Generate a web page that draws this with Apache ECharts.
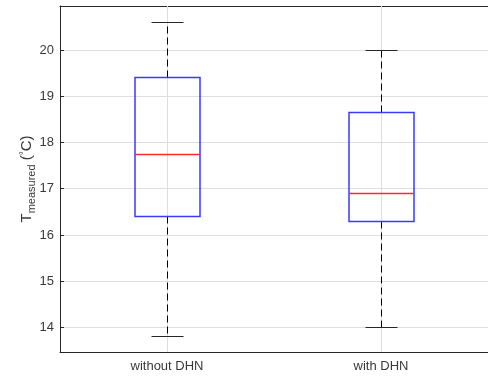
<!DOCTYPE html>
<html>
<head>
<meta charset="utf-8">
<script src="https://cdn.jsdelivr.net/npm/echarts@6/dist/echarts.min.js"></script>
<style>html,body{margin:0;padding:0;background:#fff;}#c{width:488px;height:378px;}</style>
</head>
<body>
<div id="c"></div>
<script>
// ---- data ----
const categories = ['without DHN', 'with DHN'];
const lowerWhisker = [13.81, 14.0];
const q1 = [16.41, 16.31];
const median = [17.75, 16.91];
const q3 = [19.41, 18.65];
const upperWhisker = [20.61, 20.0];
const yMin = 13.47;
const yMax = 20.95;

const boxData = categories.map((c, i) => [i, lowerWhisker[i], q1[i], median[i], q3[i], upperWhisker[i]]);

const FONT = '"Liberation Sans", Arial, sans-serif';
const AXIS = '#262626';
const LABEL = '#3a3a3a';
const GRID = '#dedede';

const chart = echarts.init(document.getElementById('c'), null, {renderer: 'canvas'});

function renderBox(params, api) {
  const x = api.value(0);
  const p = v => api.coord([x, v]);
  const cx = Math.round(p(yMin)[0]) + 0.5;
  const yTop = p(yMax)[1], yBot = p(yMin)[1];
  const yLo = Math.round(p(api.value(1))[1]) + 0.5;
  const yQ1 = Math.round(p(api.value(2))[1]) + 0.5;
  const yMed = Math.round(p(api.value(3))[1]) + 0.5;
  const yQ3 = Math.round(p(api.value(4))[1]) + 0.5;
  const yHi = Math.round(p(api.value(5))[1]) + 0.5;
  const halfBox = 32.5, halfCap = 16;
  return {
    type: 'group',
    children: [
      {type: 'line', z2: 1, shape: {x1: cx, y1: yTop, x2: cx, y2: yBot}, style: {stroke: GRID, lineWidth: 1}},
      {type: 'line', z2: 2, shape: {x1: cx, y1: yQ3, x2: cx, y2: yHi}, style: {stroke: '#000', lineWidth: 1, lineDash: [7, 4]}},
      {type: 'line', z2: 2, shape: {x1: cx, y1: yQ1, x2: cx, y2: yLo}, style: {stroke: '#000', lineWidth: 1, lineDash: [7, 4]}},
      {type: 'line', z2: 2, shape: {x1: cx - halfCap, y1: yHi, x2: cx + halfCap, y2: yHi}, style: {stroke: '#262626', lineWidth: 1}},
      {type: 'line', z2: 2, shape: {x1: cx - halfCap, y1: yLo, x2: cx + halfCap, y2: yLo}, style: {stroke: '#262626', lineWidth: 1}},
      {type: 'rect', z2: 3, shape: {x: cx - halfBox, y: yQ3, width: 2 * halfBox, height: yQ1 - yQ3},
        style: {fill: 'none', stroke: '#3a3aff', lineWidth: 1.5}},
      {type: 'line', z2: 4, shape: {x1: cx - halfBox, y1: yMed, x2: cx + halfBox, y2: yMed},
        style: {stroke: '#ff2a2a', lineWidth: 1.3}}
    ]
  };
}

chart.setOption({
  animation: false,
  backgroundColor: '#fff',
  textStyle: {fontFamily: FONT},
  grid: {left: 60, top: 6, right: -8, bottom: 26, containLabel: false},
  xAxis: [{
    type: 'category',
    data: categories,
    position: 'bottom',
    axisLine: {lineStyle: {color: AXIS, width: 1}},
    axisTick: {show: true, inside: true, alignWithLabel: true, length: 4, lineStyle: {color: AXIS}},
    axisLabel: {color: LABEL, fontSize: 13, margin: 8, fontFamily: FONT},
    splitLine: {show: false}
  }, {
    type: 'category',
    data: categories,
    position: 'top',
    axisLine: {lineStyle: {color: AXIS, width: 1}},
    axisTick: {show: true, inside: true, alignWithLabel: true, length: 4, lineStyle: {color: AXIS}},
    axisLabel: {show: false},
    splitLine: {show: false}
  }],
  yAxis: {
    type: 'value',
    min: yMin,
    max: yMax,
    splitNumber: 7,
    axisLine: {show: true, lineStyle: {color: AXIS, width: 1}},
    axisTick: {show: true, inside: true, length: 4, lineStyle: {color: AXIS}},
    axisLabel: {color: LABEL, fontSize: 13, margin: 6, showMinLabel: false, showMaxLabel: false, fontFamily: FONT},
    splitLine: {show: true, lineStyle: {color: GRID, width: 1}},
    name: '{t|T}{s|measured}{t| (}{d|°}{t|C)}',
    nameLocation: 'middle',
    nameGap: 26,
    nameMoveOverlap: false,
    nameRotate: 90,
    nameTextStyle: {
      color: LABEL,
      fontFamily: FONT,
      rich: {
        t: {fontSize: 15, lineHeight: 15, verticalAlign: 'top', color: LABEL, fontFamily: FONT},
        s: {fontSize: 11, lineHeight: 11, padding: [7, 0, 0, 0], verticalAlign: 'top', color: LABEL, fontFamily: FONT},
        d: {fontSize: 10, lineHeight: 10, verticalAlign: 'top', color: LABEL, fontFamily: FONT}
      }
    }
  },
  series: [{
    type: 'custom',
    xAxisIndex: 0,
    renderItem: renderBox,
    encode: {x: 0, y: [1, 2, 3, 4, 5]},
    data: boxData,
    clip: false
  }]
});
</script>
</body>
</html>
